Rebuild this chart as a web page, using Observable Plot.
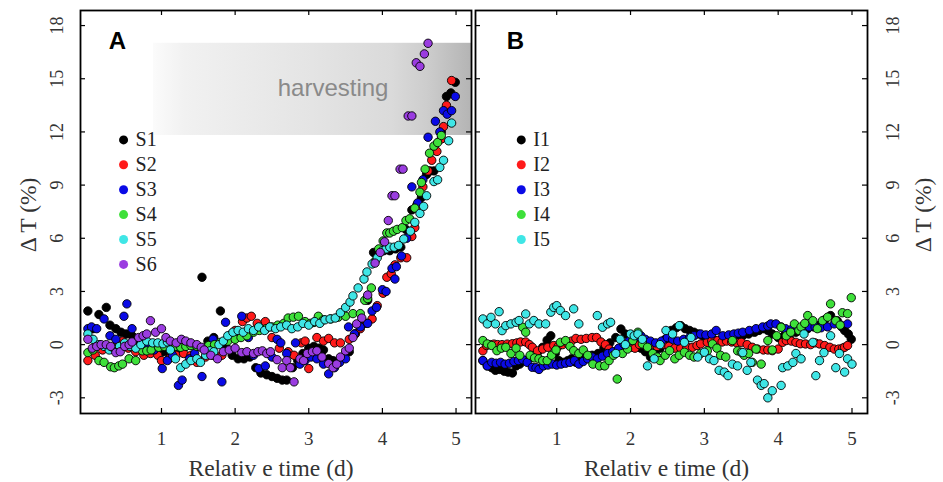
<!DOCTYPE html>
<html><head><meta charset="utf-8">
<script src="https://cdn.jsdelivr.net/npm/d3@7"></script>
<script src="https://cdn.jsdelivr.net/npm/@observablehq/plot@0.6"></script>
<style>
html,body{margin:0;padding:0;background:#fff;}
#chart{display:flex;width:943px;height:482px;}
</style></head><body><div id="chart"></div>
<script>
// ---- Panel A series: [relative time (d), ΔT (%)] ----
const S1 = [[0,1.9],[0.07,0.9],[0.15,1.7],[0.25,2.1],[0.3,1.1],[0.38,0.9],[0.45,0.7],[0.52,0.6],[0.6,0.5],[0.68,0.2],[0.76,0.0],[0.85,-0.2],[0.94,-0.3],[1.03,-0.4],[1.12,-0.5],[1.21,-0.3],[1.3,-0.2],[1.4,0.0],[1.48,-0.1],[1.55,3.8],[1.63,0.2],[1.71,0.4],[1.8,1.9],[1.88,-0.2],[1.96,-0.6],[2.04,-0.8],[2.12,-0.8],[2.2,-0.7],[2.28,-1.3],[2.35,-1.6],[2.43,-1.7],[2.5,-1.8],[2.57,-1.9],[2.64,-2.0],[2.7,-2.0],[2.78,-1.3],[2.85,-0.9],[2.92,-0.5],[3.0,-0.2],[3.07,-0.1],[3.14,-0.2],[3.2,-0.3],[3.27,-0.8],[3.33,-0.9],[3.4,-1.0],[3.47,-0.7],[3.55,-0.4],[3.63,0.6],[3.71,1.2],[3.8,2.5],[3.88,5.2],[3.95,5.3],[4.02,5.3],[4.1,5.3],[4.18,5.4],[4.25,5.5],[4.32,6.5],[4.4,7.6],[4.47,7.9],[4.53,8.3],[4.6,9.6],[4.65,9.8],[4.7,9.8],[4.8,12.0],[4.87,14.0],[4.93,14.2],[4.99,14.8]];
const S2 = [[0,-0.9],[0.1,-0.6],[0.2,-0.3],[0.3,-0.2],[0.4,0.0],[0.47,0.2],[0.55,-0.2],[0.65,-0.4],[0.76,-0.6],[0.85,-0.5],[0.95,-0.6],[1.0,-0.9],[1.1,-0.8],[1.2,-0.6],[1.3,-0.5],[1.4,-0.6],[1.48,-1.0],[1.6,-0.7],[1.7,-0.6],[1.82,-0.6],[1.9,0.3],[2.0,0.8],[2.1,1.3],[2.16,1.5],[2.22,1.6],[2.3,1.2],[2.41,1.3],[2.5,0.4],[2.6,-0.2],[2.72,-0.4],[2.8,-0.6],[2.9,0.1],[2.95,0.2],[3.0,-1.35],[3.11,0.4],[3.2,0.2],[3.27,0.35],[3.35,0.1],[3.43,0.1],[3.55,0.3],[3.63,0.6],[3.7,0.9],[3.78,1.2],[3.86,1.45],[3.93,2.2],[4.01,2.9],[4.06,3.8],[4.12,4.0],[4.17,4.5],[4.25,4.9],[4.33,4.9],[4.4,6.1],[4.44,6.6],[4.5,7.7],[4.55,8.9],[4.62,9.8],[4.67,10.4],[4.74,10.9],[4.8,11.6],[4.83,12.3],[4.87,13.5],[4.94,14.9]];
const S3 = [[0,0.9],[0.05,1.0],[0.12,0.9],[0.22,1.45],[0.3,0.5],[0.38,0.3],[0.49,1.6],[0.53,2.3],[0.6,0.9],[0.7,0.3],[0.8,-0.1],[0.9,-0.3],[1.01,-1.35],[1.08,-0.9],[1.15,-0.6],[1.23,-2.3],[1.28,-2.0],[1.38,-0.8],[1.45,-0.5],[1.55,-1.8],[1.62,-0.3],[1.7,0.3],[1.82,-2.1],[1.87,1.26],[1.95,0.6],[2.03,0.5],[2.09,1.6],[2.18,0.4],[2.25,-0.6],[2.32,-1.35],[2.41,-1.2],[2.5,-0.7],[2.57,0.3],[2.62,0.1],[2.7,-0.5],[2.82,0.1],[2.88,-1.1],[2.95,-0.9],[3.03,-0.7],[3.11,-0.8],[3.2,-1.1],[3.27,-1.65],[3.35,-1.3],[3.42,-1.0],[3.5,-0.8],[3.54,1.0],[3.62,0.6],[3.7,1.0],[3.8,1.2],[3.86,1.9],[3.92,2.1],[4.0,3.1],[4.05,3.0],[4.13,4.3],[4.17,3.7],[4.19,4.4],[4.26,5.0],[4.33,6.0],[4.4,8.9],[4.48,8.0],[4.55,9.3],[4.62,11.7],[4.72,12.6],[4.78,12.0],[4.83,13.2],[4.88,13.0],[4.94,13.2],[4.99,14.0]];
const S4 = [[0,-0.45],[0.07,-0.3],[0.15,-0.9],[0.22,-1.0],[0.31,-1.25],[0.36,-1.3],[0.42,-1.2],[0.47,-1.1],[0.56,-0.8],[0.65,-0.9],[0.74,-0.35],[0.8,-0.35],[0.86,-0.3],[0.96,-0.15],[1.04,-0.1],[1.12,0.05],[1.19,-0.1],[1.26,-0.15],[1.33,-0.1],[1.4,-0.05],[1.48,-0.1],[1.56,-0.2],[1.64,-0.05],[1.72,0.0],[1.8,0.13],[1.9,0.2],[2.0,0.3],[2.08,0.4],[2.16,0.5],[2.25,0.7],[2.33,0.8],[2.42,0.9],[2.5,1.0],[2.58,1.1],[2.66,1.2],[2.72,1.5],[2.79,1.55],[2.86,1.6],[2.95,1.3],[3.02,1.2],[3.07,1.25],[3.13,1.6],[3.2,1.4],[3.3,1.45],[3.4,1.55],[3.5,1.6],[3.6,1.75],[3.7,1.75],[3.76,2.5],[3.8,2.6],[3.85,3.2],[3.9,4.7],[3.95,5.4],[4.01,5.85],[4.06,6.3],[4.1,6.3],[4.15,6.4],[4.2,6.5],[4.27,6.6],[4.32,7.0],[4.37,7.1],[4.44,7.7],[4.51,8.6],[4.53,9.15],[4.58,9.9],[4.64,10.8],[4.7,11.2],[4.75,11.4],[4.8,11.8]];
const S5 = [[0,0.6],[0.07,0.3],[0.15,0.0],[0.22,-0.1],[0.29,-0.3],[0.35,-0.2],[0.43,-0.1],[0.5,0.1],[0.57,-0.1],[0.65,-0.2],[0.72,0.0],[0.8,0.2],[0.88,0.1],[0.95,0.1],[1.02,0.05],[1.08,0.15],[1.12,-0.3],[1.19,-0.8],[1.26,-1.3],[1.33,-1.1],[1.4,-0.9],[1.48,-0.8],[1.53,-1.0],[1.6,-0.6],[1.66,-0.35],[1.71,-0.4],[1.78,0.0],[1.84,0.2],[1.9,0.5],[1.97,0.7],[2.04,0.8],[2.11,0.7],[2.18,0.9],[2.25,0.8],[2.32,1.0],[2.4,0.8],[2.47,1.0],[2.55,0.9],[2.62,1.0],[2.7,1.1],[2.77,0.9],[2.85,1.0],[2.92,1.2],[3.0,1.1],[3.08,1.3],[3.15,1.2],[3.22,1.4],[3.29,1.45],[3.36,1.5],[3.43,1.8],[3.5,2.1],[3.56,2.4],[3.6,2.75],[3.67,3.2],[3.75,3.7],[3.79,4.1],[3.86,4.55],[3.93,4.9],[4.0,5.3],[4.05,5.4],[4.1,5.5],[4.16,5.5],[4.22,5.6],[4.29,5.96],[4.38,6.4],[4.44,6.9],[4.51,7.4],[4.56,7.8],[4.6,8.4],[4.7,9.2],[4.75,9.3],[4.78,10.0],[4.83,10.4],[4.9,11.5],[4.94,12.5]];
const S6 = [[0,0.3],[0.06,-0.2],[0.12,-0.1],[0.18,0.0],[0.25,0.0],[0.31,-0.1],[0.38,-0.45],[0.44,-0.4],[0.5,-0.1],[0.56,0.0],[0.6,0.15],[0.69,0.4],[0.75,0.5],[0.8,0.6],[0.85,1.35],[0.92,0.7],[1.0,0.9],[1.06,0.4],[1.12,0.2],[1.2,0.1],[1.27,0.3],[1.33,0.2],[1.4,0.1],[1.48,0.0],[1.54,-0.15],[1.58,-0.3],[1.67,-0.6],[1.76,-0.8],[1.84,-0.4],[1.92,-0.3],[2.0,-0.2],[2.09,-0.45],[2.16,-0.4],[2.25,-0.5],[2.31,-0.4],[2.37,-0.35],[2.43,-0.5],[2.48,-0.4],[2.57,-0.85],[2.64,-1.3],[2.7,-0.9],[2.75,-1.3],[2.8,-2.1],[2.88,-0.8],[2.93,-0.9],[2.98,-0.5],[3.05,-0.4],[3.11,-0.35],[3.18,-0.7],[3.27,-1.07],[3.33,-1.3],[3.38,-1.1],[3.43,-0.7],[3.5,-0.35],[3.55,-0.2],[3.6,0.4],[3.65,1.17],[3.72,1.5],[3.8,2.8],[3.9,4.6],[3.97,5.2],[4.03,5.8],[4.08,7.0],[4.13,8.4],[4.17,8.4],[4.24,9.9],[4.28,9.9],[4.35,12.9],[4.4,12.9],[4.46,15.9],[4.51,15.7],[4.57,16.4],[4.62,17.0]];

// ---- Panel B series ----
const I1 = [[0,-0.9],[0.06,-1.2],[0.12,-1.3],[0.17,-1.45],[0.23,-1.4],[0.29,-1.5],[0.34,-1.55],[0.4,-1.6],[0.45,-1.2],[0.5,-1.1],[0.56,-0.9],[0.62,-0.8],[0.68,-0.6],[0.74,-0.45],[0.81,-0.15],[0.87,0.25],[0.92,0.5],[0.98,-0.5],[1.03,-0.9],[1.09,-1.0],[1.15,-0.9],[1.2,-0.8],[1.26,-1.0],[1.32,-0.9],[1.4,-0.7],[1.48,-0.6],[1.56,-0.5],[1.64,-0.2],[1.72,0.1],[1.8,0.4],[1.87,0.88],[1.93,0.6],[2.0,0.3],[2.07,0.1],[2.14,-0.2],[2.2,-0.4],[2.27,-0.7],[2.33,-0.5],[2.4,-0.2],[2.47,0.3],[2.55,0.8],[2.62,0.95],[2.68,1.07],[2.74,0.9],[2.8,0.8],[2.86,0.7],[2.92,0.6],[2.98,0.5],[3.05,0.4],[3.12,0.3],[3.2,0.2],[3.28,0.3],[3.36,0.4],[3.44,0.5],[3.52,0.5],[3.6,0.6],[3.68,0.7],[3.74,0.8],[3.8,0.9],[3.86,0.8],[3.92,0.6],[4.0,0.4],[4.08,0.5],[4.16,0.6],[4.24,0.7],[4.32,0.8],[4.4,0.9],[4.48,1.0],[4.56,1.1],[4.63,1.4],[4.71,1.64],[4.8,1.35],[4.86,1.0],[4.9,0.8],[4.95,0.6],[4.99,0.3]];
const I2 = [[0,-0.35],[0.05,-0.05],[0.1,0.0],[0.15,0.03],[0.2,0.0],[0.26,0.0],[0.33,0.03],[0.4,0.05],[0.46,0.1],[0.51,0.15],[0.58,0.15],[0.63,0.0],[0.67,-0.15],[0.74,-0.35],[0.81,-0.25],[0.88,-0.15],[0.96,-0.05],[1.02,-0.1],[1.08,0.0],[1.14,0.1],[1.2,0.2],[1.26,0.35],[1.33,0.3],[1.4,0.35],[1.48,0.4],[1.54,0.4],[1.6,0.15],[1.66,0.0],[1.71,-0.25],[1.78,-0.43],[1.85,-0.2],[1.92,-0.1],[2.0,-0.15],[2.06,-0.2],[2.12,0.0],[2.2,0.1],[2.28,0.0],[2.36,-0.1],[2.44,0.0],[2.52,-0.1],[2.6,-0.2],[2.68,-0.2],[2.76,-0.1],[2.84,-0.15],[2.9,-0.05],[2.95,0.04],[3.04,0.13],[3.1,0.2],[3.18,0.23],[3.24,0.15],[3.3,0.2],[3.37,0.15],[3.44,0.1],[3.5,0.13],[3.58,0.0],[3.65,-0.15],[3.72,-0.25],[3.8,-0.3],[3.86,-0.3],[3.92,-0.34],[4.0,-0.25],[4.06,0.13],[4.11,0.23],[4.18,0.2],[4.24,0.13],[4.3,0.05],[4.37,0.04],[4.44,0.0],[4.5,0.1],[4.56,0.04],[4.63,-0.05],[4.7,-0.15],[4.76,-0.25],[4.82,-0.25],[4.87,-0.2],[4.9,-0.15],[4.94,-0.05]];
const I3 = [[0,-0.9],[0.06,-1.2],[0.12,-1.0],[0.18,-1.05],[0.24,-1.0],[0.3,-1.1],[0.36,-1.05],[0.42,-0.95],[0.48,-0.9],[0.54,-0.85],[0.6,-1.0],[0.67,-1.28],[0.72,-1.3],[0.76,-1.4],[0.82,-1.2],[0.88,-1.15],[0.94,-1.1],[1.0,-1.15],[1.06,-1.1],[1.12,-1.05],[1.18,-1.0],[1.24,-0.9],[1.3,-1.1],[1.36,-0.95],[1.42,-0.8],[1.48,-0.7],[1.55,-0.8],[1.62,-0.65],[1.69,-0.5],[1.76,-0.4],[1.84,-0.2],[1.91,0.04],[1.98,0.2],[2.06,0.4],[2.14,0.5],[2.2,0.3],[2.27,0.2],[2.34,0.1],[2.42,0.2],[2.5,0.4],[2.57,0.3],[2.64,0.2],[2.72,0.3],[2.8,0.4],[2.86,0.5],[2.95,0.6],[3.02,0.55],[3.1,0.6],[3.16,0.8],[3.25,0.5],[3.33,0.55],[3.4,0.6],[3.46,0.65],[3.52,0.7],[3.61,0.8],[3.7,0.9],[3.79,1.0],[3.86,1.05],[3.9,1.17],[3.97,1.17],[4.04,1.0],[4.1,0.9],[4.18,0.85],[4.26,0.9],[4.34,0.95],[4.42,1.0],[4.5,1.0],[4.58,0.95],[4.67,1.0],[4.76,1.17],[4.85,1.1],[4.94,1.17]];
const I4 = [[0,0.23],[0.06,0.04],[0.12,-0.05],[0.19,-0.34],[0.25,-0.2],[0.31,-0.15],[0.38,-0.5],[0.45,-0.2],[0.5,-0.6],[0.54,0.98],[0.58,0.7],[0.64,-0.6],[0.7,-0.75],[0.76,-0.8],[0.81,-0.9],[0.87,-0.9],[0.93,-0.6],[0.99,-0.3],[1.05,0.13],[1.12,0.23],[1.18,-0.1],[1.23,-0.34],[1.3,-0.5],[1.36,-0.3],[1.42,-0.6],[1.49,-1.1],[1.58,-1.2],[1.65,-1.2],[1.71,-0.9],[1.77,-0.6],[1.82,-1.94],[1.89,-0.5],[1.96,-0.25],[2.03,0.23],[2.1,0.7],[2.16,0.04],[2.23,-0.15],[2.3,-0.5],[2.36,-0.7],[2.4,-0.9],[2.47,-0.6],[2.53,-0.34],[2.6,-0.8],[2.66,-0.6],[2.73,-0.43],[2.8,-0.6],[2.86,-0.7],[2.95,-0.5],[3.04,-0.35],[3.11,0.04],[3.17,-0.2],[3.22,-0.6],[3.29,-0.7],[3.38,0.23],[3.45,-0.35],[3.5,-0.43],[3.54,-0.6],[3.6,-0.5],[3.65,-1.0],[3.7,-0.25],[3.77,-1.1],[3.86,0.23],[3.92,-0.3],[3.98,0.5],[4.04,0.98],[4.11,0.5],[4.17,0.7],[4.22,1.17],[4.28,0.8],[4.31,1.0],[4.36,1.2],[4.4,1.64],[4.47,1.35],[4.53,0.9],[4.6,1.35],[4.67,1.55],[4.71,2.3],[4.78,1.35],[4.84,1.1],[4.87,1.8],[4.94,1.75],[4.99,2.65]];
const I5 = [[0,1.45],[0.06,1.17],[0.11,1.54],[0.17,1.17],[0.22,1.86],[0.26,0.79],[0.31,1.07],[0.38,1.17],[0.45,1.26],[0.49,1.36],[0.58,1.73],[0.63,1.17],[0.69,1.36],[0.76,1.17],[0.85,1.17],[0.92,1.83],[0.96,2.1],[1.0,2.2],[1.05,1.92],[1.12,1.64],[1.23,2.02],[1.3,1.17],[1.55,1.64],[1.62,0.98],[1.69,1.17],[1.73,1.26],[1.8,-0.5],[1.86,0.3],[1.93,0.0],[2.0,0.6],[2.05,0.5],[2.1,0.6],[2.16,0.3],[2.23,-1.2],[2.32,-0.8],[2.4,0.0],[2.48,0.8],[2.57,0.6],[2.66,1.07],[2.73,0.13],[2.82,0.4],[2.91,-0.7],[3.0,-0.43],[3.07,-0.8],[3.13,-0.9],[3.2,-1.45],[3.27,-1.55],[3.32,-1.75],[3.38,-1.1],[3.45,-1.2],[3.52,-0.45],[3.58,-1.45],[3.63,-1.0],[3.72,-2.0],[3.77,-2.3],[3.81,-2.2],[3.86,-3.0],[3.92,-2.6],[4.04,-2.3],[4.06,-1.3],[4.13,-1.2],[4.2,-1.0],[4.24,-0.5],[4.31,-0.8],[4.35,0.6],[4.47,0.13],[4.51,-1.75],[4.56,-0.9],[4.62,-0.45],[4.71,0.5],[4.78,-1.3],[4.83,-0.5],[4.9,-1.55],[4.94,-0.8],[5.0,-1.1]];

const namesA = ["S1","S2","S3","S4","S5","S6"];
const seriesA = [S1,S2,S3,S4,S5,S6];
const namesB = ["I1","I2","I3","I4","I5"];
const seriesB = [I1,I2,I3,I4,I5];
const seriesColors = ["#000000","#ff1a1a","#0a0ae6","#3ee03a","#3fe6e6","#9a3ce0"];

const xTicks = [1,2,3,4,5];
const yTicks = [-3,0,3,6,9,12,15,18];
const xTitle = "Relativ e time (d)";
const yTitle = "Δ T (%)";
// harvesting band (panel A)
const harvestStart = 0.89, harvestLow = 11.8, harvestHigh = 17;
const harvestLabel = "harvesting", harvestLabelX = 3.33, harvestLabelY = 14.45;

const xDomain = [-0.1, 5.21];
const yDomain = [-3.885, 18.85];
const H = 482, MT = 10, MB = 69;
const serif = "Liberation Serif, Times New Roman, serif";
const sans = "Liberation Sans, Arial, sans-serif";
const textCol = "#333";

function gradientDefs() {
  const ns = "http://www.w3.org/2000/svg";
  const defs = document.createElementNS(ns, "defs");
  const lg = document.createElementNS(ns, "linearGradient");
  lg.setAttribute("id", "harvestGrad");
  lg.setAttribute("x1", "0"); lg.setAttribute("x2", "1");
  lg.setAttribute("y1", "0"); lg.setAttribute("y2", "0");
  [[0,"#fbfbfb"],[0.1,"#f1f1f1"],[0.5,"#e4e4e4"],[0.75,"#dadada"],[0.86,"#cdcdcd"],[1,"#b4b4b4"]].forEach(([o,c]) => {
    const s = document.createElementNS(ns, "stop");
    s.setAttribute("offset", o); s.setAttribute("stop-color", c);
    lg.appendChild(s);
  });
  defs.appendChild(lg);
  return defs;
}

function panel({names, series, letter, side, width, marginLeft, marginRight, legendX, harvest}) {
  const plotW = width - marginLeft - marginRight;
  const plotH = H - MT - MB;
  const rows = series.flatMap((s, i) => s.map(([t, v]) => ({name: names[i], t, v})));
  const legTop = 11.55, legStep = 1.405;
  const marks = [];
  if (harvest) {
    marks.push(gradientDefs);
    marks.push(Plot.rect([0], {x1: () => harvestStart, x2: () => xDomain[1], y1: () => harvestLow, y2: () => harvestHigh, fill: "url(#harvestGrad)"}));
    marks.push(Plot.text([harvestLabel], {x: () => harvestLabelX, y: () => harvestLabelY, text: d => d, fill: "#8a8a8a", fontSize: 24, fontFamily: sans}));
  }
  marks.push(
    Plot.dot(rows, {x: "t", y: "v", fill: "name", stroke: "#000", strokeWidth: 0.9, r: 4.2}),
    Plot.frame({stroke: "#000", strokeWidth: 1.8}),
    // inward ticks
    Plot.ruleX(xTicks, {x: d => d, insetTop: plotH - 5, stroke: "#000", strokeWidth: 1.2}),
    Plot.ruleX(xTicks, {x: d => d, insetBottom: plotH - 5, stroke: "#000", strokeWidth: 1.2}),
    Plot.ruleY(yTicks, {y: d => d, insetRight: plotW - 5, stroke: "#000", strokeWidth: 1.2}),
    Plot.ruleY(yTicks, {y: d => d, insetLeft: plotW - 5, stroke: "#000", strokeWidth: 1.2}),
    // x tick labels
    Plot.text(xTicks, {x: d => d, frameAnchor: "bottom", dy: 25, text: d => String(d), fontSize: 19, fontFamily: serif, fill: textCol, lineAnchor: "middle"}),
    // y tick labels
    Plot.text(yTicks, {y: d => d, frameAnchor: side, dx: side === "left" ? -23 : 26, rotate: -90, text: d => String(d), fontSize: 18, fontFamily: serif, fill: textCol, textAnchor: "middle", lineAnchor: "middle"}),
    // titles
    Plot.text([xTitle], {frameAnchor: "bottom", dx: -5, dy: 55, text: d => d, fontSize: 23.5, fontFamily: serif, fill: textCol, textAnchor: "middle", lineAnchor: "middle"}),
    Plot.text([yTitle], {frameAnchor: side, dx: side === "left" ? -52 : 56, dy: 3, rotate: -90, text: d => d, fontSize: 23.5, fontFamily: serif, fill: textCol, textAnchor: "middle", lineAnchor: "middle"}),
    // panel letter
    Plot.text([letter], {frameAnchor: "top-left", dx: side === "left" ? 37 : 40, dy: 31, text: d => d, fontSize: 24, fontWeight: "bold", fontFamily: sans, fill: "#000", textAnchor: "middle", lineAnchor: "middle"}),
    // legend
    Plot.dot(names, {x: () => legendX, y: (d, i) => legTop - i * legStep, fill: d => d, r: 4.5}),
    Plot.text(names, {x: () => legendX, y: (d, i) => legTop - i * legStep, dx: 12, text: d => d, fontSize: 20, fontFamily: serif, fill: "#222", textAnchor: "start", lineAnchor: "middle"})
  );
  return Plot.plot({
    width, height: H, marginLeft, marginRight, marginTop: MT, marginBottom: MB,
    x: {domain: xDomain, axis: null},
    y: {domain: yDomain, axis: null},
    color: {domain: names, range: seriesColors.slice(0, names.length)},
    style: {background: "#fff", overflow: "visible"},
    marks
  });
}

const chart = document.getElementById("chart");
chart.appendChild(panel({names: namesA, series: seriesA, letter: "A", side: "left", width: 473, marginLeft: 80, marginRight: 2, legendX: 0.485, harvest: true}));
chart.appendChild(panel({names: namesB, series: seriesB, letter: "B", side: "right", width: 470, marginLeft: 2, marginRight: 76, legendX: 0.52, harvest: false}));
</script></body></html>
